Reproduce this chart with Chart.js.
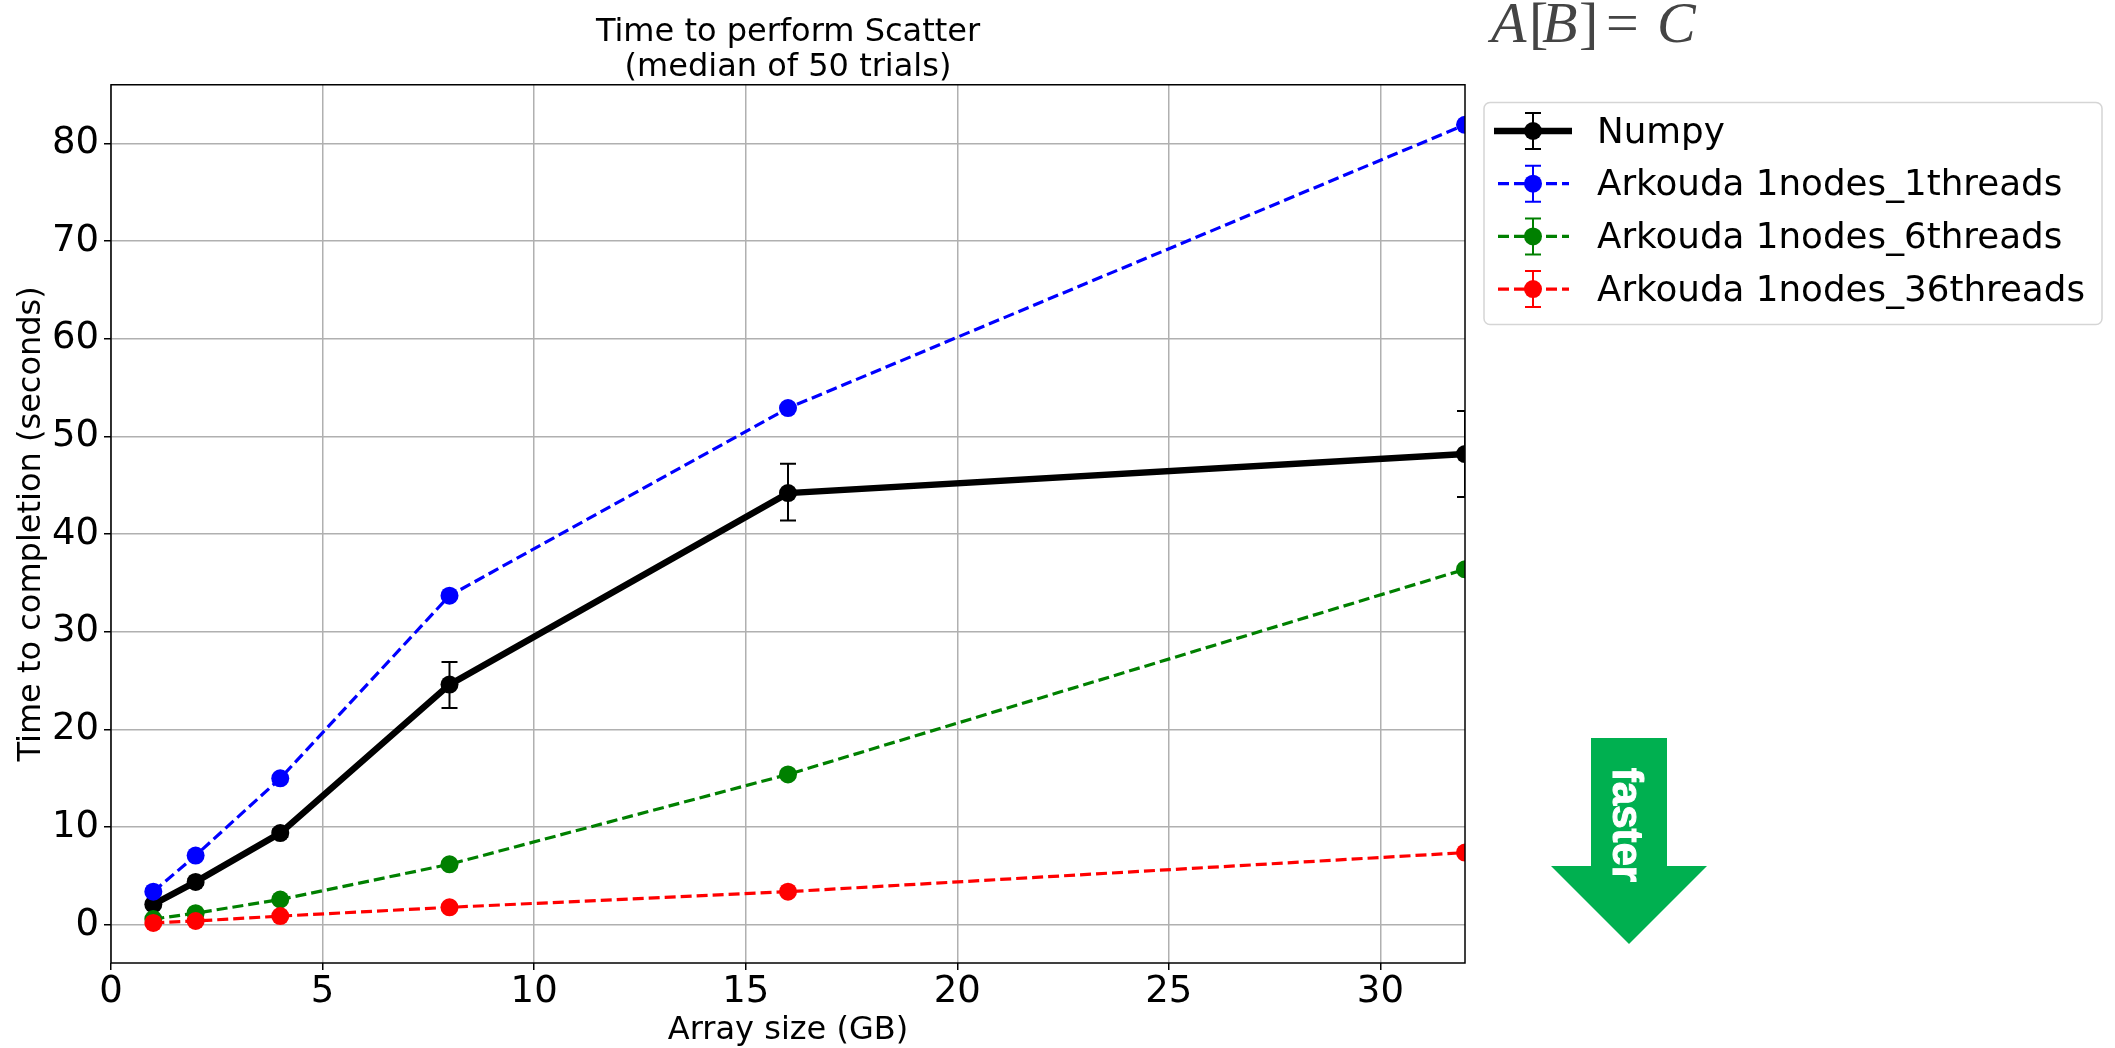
<!DOCTYPE html>
<html>
<head>
<meta charset="utf-8">
<title>Time to perform Scatter</title>
<script src="https://cdn.jsdelivr.net/npm/chart.js@4"></script>
<style>
    html, body { margin: 0; padding: 0; background: #fff; }
    canvas { display: block; }
</style>
</head>
<body>
<canvas id="scatter-chart" width="2115" height="1048"></canvas>
<script>
// Chart values
const arraySizes = [1, 2, 4, 8, 16, 32];
const numpyTimes = [2.1, 4.4, 9.4, 24.6, 44.2, 48.2];
const numpyLow = [1.9, 4.1, 9.0, 22.2, 41.4, 43.8];
const numpyHigh = [2.3, 4.7, 9.8, 26.9, 47.2, 52.6];
const threads1Times = [3.4, 7.1, 15.0, 33.7, 52.9, 81.9];
const threads6Times = [0.6, 1.2, 2.6, 6.2, 15.4, 36.4];
const threads36Times = [0.2, 0.4, 0.9, 1.8, 3.4, 7.4];
const xTicks = [0, 5, 10, 15, 20, 25, 30];
const yTicks = [0, 10, 20, 30, 40, 50, 60, 70, 80];
const seriesNames = ['Numpy', 'Arkouda 1nodes_1threads', 'Arkouda 1nodes_6threads', 'Arkouda 1nodes_36threads'];

const font = 'DejaVu Sans';

function toPoints(values) {
    return values.map((v, i) => ({ x: arraySizes[i], y: v }));
}

function makeSeries(index, values, color) {
    const isNumpy = index === 0;
    return {
        label: seriesNames[index],
        data: toPoints(values),
        borderColor: color,
        backgroundColor: color,
        borderWidth: isNumpy ? 6.5 : 3.2,
        borderDash: isNumpy ? [] : [11, 5],
        pointRadius: 9,
        pointHoverRadius: 9,
        pointBorderWidth: 0,
        tension: 0,
        clip: 0,
        order: 4 - index
    };
}

// Error bars for Numpy, drawn through the value scales
const errorBarPlugin = {
    id: 'errorBars',
    afterDatasetDraw(chart, args) {
        if (args.index !== 0) return;
        const { ctx, chartArea, scales } = chart;
        ctx.save();
        ctx.beginPath();
        ctx.rect(chartArea.left, chartArea.top, chartArea.width, chartArea.height);
        ctx.clip();
        ctx.strokeStyle = '#000';
        ctx.lineWidth = 2;
        arraySizes.forEach((size, i) => {
            const x = scales.x.getPixelForValue(size);
            const top = scales.y.getPixelForValue(numpyHigh[i]);
            const bottom = scales.y.getPixelForValue(numpyLow[i]);
            ctx.beginPath();
            ctx.moveTo(x, top);
            ctx.lineTo(x, bottom);
            ctx.moveTo(x - 8, top);
            ctx.lineTo(x + 8, top);
            ctx.moveTo(x - 8, bottom);
            ctx.lineTo(x + 8, bottom);
            ctx.stroke();
        });
        ctx.restore();
    }
};

// Frame around the plot, the legend and the two pasted-in annotations
const decorationPlugin = {
    id: 'decorations',
    afterDraw(chart) {
        const { ctx, chartArea } = chart;
        ctx.save();
        ctx.strokeStyle = '#000';
        ctx.lineWidth = 1.5;
        ctx.strokeRect(chartArea.left, chartArea.top, chartArea.width, chartArea.height);
        ctx.restore();
        drawLegend(ctx, chart);
        drawFormula(ctx);
        drawArrow(ctx);
    }
};

function drawLegend(ctx, chart) {
    ctx.save();
    ctx.beginPath();
    ctx.roundRect(1484, 102.5, 618, 222, 6);
    ctx.fillStyle = '#fff';
    ctx.fill();
    ctx.strokeStyle = '#d5d5d5';
    ctx.lineWidth = 1.5;
    ctx.stroke();

    seriesNames.forEach((name, i) => {
        const ds = chart.data.datasets[i];
        const y = 131 + i * 52.7;
        const x = 1533;

        ctx.strokeStyle = ds.borderColor;
        ctx.lineWidth = ds.borderWidth;
        ctx.setLineDash(ds.borderDash);
        ctx.beginPath();
        ctx.moveTo(i === 0 ? 1494 : 1498, y);
        ctx.lineTo(i === 0 ? 1572 : 1569, y);
        ctx.stroke();
        ctx.setLineDash([]);

        ctx.lineWidth = 2;
        ctx.beginPath();
        ctx.moveTo(x, y - 18);
        ctx.lineTo(x, y + 18);
        ctx.moveTo(x - 8, y - 18);
        ctx.lineTo(x + 8, y - 18);
        ctx.moveTo(x - 8, y + 18);
        ctx.lineTo(x + 8, y + 18);
        ctx.stroke();

        ctx.fillStyle = ds.backgroundColor;
        ctx.beginPath();
        ctx.arc(x, y, 9, 0, Math.PI * 2);
        ctx.fill();

        ctx.fillStyle = '#000';
        ctx.font = `35.7px "${font}"`;
        ctx.textAlign = 'left';
        ctx.textBaseline = 'middle';
        ctx.fillText(name, 1597, y + 2.5);
    });
    ctx.restore();
}

function drawFormula(ctx) {
    const parts = [
        ['A', 1491, true], ['[', 1529, false], ['B', 1542, true], [']', 1579, false],
        ['=', 1606, false], ['C', 1657, true]
    ];
    ctx.save();
    ctx.filter = 'blur(0.7px)';
    ctx.fillStyle = '#444';
    ctx.textAlign = 'left';
    ctx.textBaseline = 'alphabetic';
    parts.forEach(([text, x, italic]) => {
        ctx.font = `${italic ? 'italic ' : ''}58px "Liberation Serif"`;
        ctx.fillText(text, x, 42);
    });
    ctx.restore();
}

function drawArrow(ctx) {
    ctx.save();
    ctx.fillStyle = '#00b050';
    ctx.beginPath();
    ctx.moveTo(1591, 738);
    ctx.lineTo(1667, 738);
    ctx.lineTo(1667, 866);
    ctx.lineTo(1707, 866);
    ctx.lineTo(1629, 944);
    ctx.lineTo(1551, 866);
    ctx.lineTo(1591, 866);
    ctx.closePath();
    ctx.fill();

    ctx.translate(1625, 825);
    ctx.rotate(Math.PI / 2);
    ctx.fillStyle = '#fff';
    ctx.strokeStyle = '#fff';
    ctx.lineWidth = 1;
    ctx.font = 'bold 42px "Liberation Sans"';
    ctx.textAlign = 'center';
    ctx.textBaseline = 'middle';
    ctx.fillText('faster', 0, 0);
    ctx.strokeText('faster', 0, 0);
    ctx.restore();
}

const axisStyle = {
    border: { display: false },
    grid: {
        color: '#b0b0b0',
        lineWidth: 1.5,
        tickColor: '#000',
        tickWidth: 1.5,
        tickLength: 7,
        drawTicks: true
    }
};

new Chart(document.getElementById('scatter-chart'), {
    type: 'line',
    data: {
        datasets: [
            makeSeries(0, numpyTimes, '#000000'),
            makeSeries(1, threads1Times, '#0000ff'),
            makeSeries(2, threads6Times, '#008000'),
            makeSeries(3, threads36Times, '#ff0000')
        ]
    },
    plugins: [errorBarPlugin, decorationPlugin],
    options: {
        responsive: false,
        animation: false,
        layout: { padding: { left: 0, right: 650, top: 0, bottom: 0 } },
        plugins: {
            legend: { display: false },
            tooltip: { enabled: false },
            title: {
                display: true,
                fullSize: false,
                text: ['Time to perform Scatter', '(median of 50 trials)'],
                color: '#000',
                font: { family: font, size: 32, weight: 'normal', lineHeight: 1.09 },
                padding: { top: 15, bottom: 0 }
            }
        },
        scales: {
            x: {
                ...axisStyle,
                type: 'linear',
                min: 0,
                max: 32,
                afterFit(scale) { scale.height = 85; },
                afterBuildTicks(scale) { scale.ticks = xTicks.map(v => ({ value: v })); },
                ticks: {
                    color: '#000',
                    font: { family: font, size: 37 },
                    padding: 0,
                    maxRotation: 0,
                    autoSkip: false
                },
                title: {
                    display: true,
                    text: 'Array size (GB)',
                    color: '#000',
                    font: { family: font, size: 32, lineHeight: 1.1 },
                    padding: { top: 0, bottom: 0 }
                }
            },
            y: {
                ...axisStyle,
                min: -3.9,
                max: 86,
                afterFit(scale) { scale.width = 111; },
                afterBuildTicks(scale) { scale.ticks = yTicks.map(v => ({ value: v })); },
                ticks: {
                    color: '#000',
                    font: { family: font, size: 37 },
                    padding: 5,
                    autoSkip: false
                },
                title: {
                    display: true,
                    text: 'Time to completion (seconds)',
                    color: '#000',
                    font: { family: font, size: 32 },
                    padding: { top: 12, bottom: 0 }
                }
            }
        }
    }
});
</script>
</body>
</html>
